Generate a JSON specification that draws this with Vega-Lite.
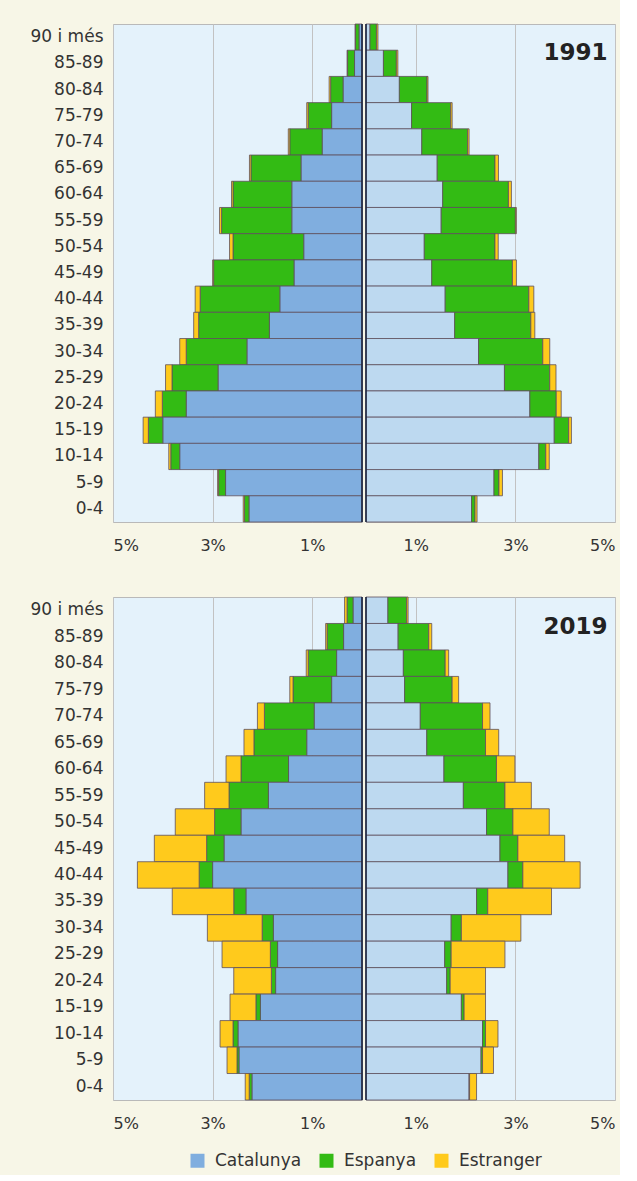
{
  "$schema": "https://vega.github.io/schema/vega-lite/v6.json",
  "background": "#f7f6e7",
  "padding": {"left": 29, "top": 22, "right": 4, "bottom": 6},
  "datasets": {
    "pop": [
      {"any":1991,"edat":"90 i més","sexe":"H","Catalunya":0.06,"Espanya":0.07,"Estranger":0.01},
      {"any":1991,"edat":"85-89","sexe":"H","Catalunya":0.15,"Espanya":0.14,"Estranger":0.01},
      {"any":1991,"edat":"80-84","sexe":"H","Catalunya":0.38,"Espanya":0.25,"Estranger":0.03},
      {"any":1991,"edat":"75-79","sexe":"H","Catalunya":0.61,"Espanya":0.47,"Estranger":0.03},
      {"any":1991,"edat":"70-74","sexe":"H","Catalunya":0.80,"Espanya":0.65,"Estranger":0.03},
      {"any":1991,"edat":"65-69","sexe":"H","Catalunya":1.225,"Espanya":1.005,"Estranger":0.03},
      {"any":1991,"edat":"60-64","sexe":"H","Catalunya":1.41,"Espanya":1.18,"Estranger":0.03},
      {"any":1991,"edat":"55-59","sexe":"H","Catalunya":1.41,"Espanya":1.41,"Estranger":0.04},
      {"any":1991,"edat":"50-54","sexe":"H","Catalunya":1.17,"Espanya":1.42,"Estranger":0.07},
      {"any":1991,"edat":"45-49","sexe":"H","Catalunya":1.365,"Espanya":1.615,"Estranger":0.02},
      {"any":1991,"edat":"40-44","sexe":"H","Catalunya":1.65,"Espanya":1.60,"Estranger":0.10},
      {"any":1991,"edat":"35-39","sexe":"H","Catalunya":1.86,"Espanya":1.42,"Estranger":0.10},
      {"any":1991,"edat":"30-34","sexe":"H","Catalunya":2.31,"Espanya":1.22,"Estranger":0.13},
      {"any":1991,"edat":"25-29","sexe":"H","Catalunya":2.89,"Espanya":0.925,"Estranger":0.13},
      {"any":1991,"edat":"20-24","sexe":"H","Catalunya":3.53,"Espanya":0.48,"Estranger":0.14},
      {"any":1991,"edat":"15-19","sexe":"H","Catalunya":4.0,"Espanya":0.29,"Estranger":0.105},
      {"any":1991,"edat":"10-14","sexe":"H","Catalunya":3.66,"Espanya":0.18,"Estranger":0.04},
      {"any":1991,"edat":"5-9","sexe":"H","Catalunya":2.74,"Espanya":0.14,"Estranger":0.02},
      {"any":1991,"edat":"0-4","sexe":"H","Catalunya":2.27,"Espanya":0.09,"Estranger":0.025},
      {"any":1991,"edat":"90 i més","sexe":"D","Catalunya":0.08,"Espanya":0.13,"Estranger":0.03},
      {"any":1991,"edat":"85-89","sexe":"D","Catalunya":0.35,"Espanya":0.26,"Estranger":0.03},
      {"any":1991,"edat":"80-84","sexe":"D","Catalunya":0.67,"Espanya":0.555,"Estranger":0.02},
      {"any":1991,"edat":"75-79","sexe":"D","Catalunya":0.915,"Espanya":0.785,"Estranger":0.03},
      {"any":1991,"edat":"70-74","sexe":"D","Catalunya":1.12,"Espanya":0.92,"Estranger":0.03},
      {"any":1991,"edat":"65-69","sexe":"D","Catalunya":1.43,"Espanya":1.16,"Estranger":0.07},
      {"any":1991,"edat":"60-64","sexe":"D","Catalunya":1.54,"Espanya":1.32,"Estranger":0.06},
      {"any":1991,"edat":"55-59","sexe":"D","Catalunya":1.51,"Espanya":1.49,"Estranger":0.02},
      {"any":1991,"edat":"50-54","sexe":"D","Catalunya":1.17,"Espanya":1.42,"Estranger":0.065},
      {"any":1991,"edat":"45-49","sexe":"D","Catalunya":1.32,"Espanya":1.62,"Estranger":0.08},
      {"any":1991,"edat":"40-44","sexe":"D","Catalunya":1.59,"Espanya":1.68,"Estranger":0.10},
      {"any":1991,"edat":"35-39","sexe":"D","Catalunya":1.78,"Espanya":1.53,"Estranger":0.08},
      {"any":1991,"edat":"30-34","sexe":"D","Catalunya":2.26,"Espanya":1.29,"Estranger":0.14},
      {"any":1991,"edat":"25-29","sexe":"D","Catalunya":2.78,"Espanya":0.91,"Estranger":0.125},
      {"any":1991,"edat":"20-24","sexe":"D","Catalunya":3.29,"Espanya":0.53,"Estranger":0.10},
      {"any":1991,"edat":"15-19","sexe":"D","Catalunya":3.78,"Espanya":0.29,"Estranger":0.055},
      {"any":1991,"edat":"10-14","sexe":"D","Catalunya":3.47,"Espanya":0.14,"Estranger":0.07},
      {"any":1991,"edat":"5-9","sexe":"D","Catalunya":2.57,"Espanya":0.10,"Estranger":0.07},
      {"any":1991,"edat":"0-4","sexe":"D","Catalunya":2.12,"Espanya":0.07,"Estranger":0.04},
      {"any":2019,"edat":"90 i més","sexe":"H","Catalunya":0.18,"Espanya":0.12,"Estranger":0.05},
      {"any":2019,"edat":"85-89","sexe":"H","Catalunya":0.37,"Espanya":0.33,"Estranger":0.03},
      {"any":2019,"edat":"80-84","sexe":"H","Catalunya":0.51,"Espanya":0.57,"Estranger":0.04},
      {"any":2019,"edat":"75-79","sexe":"H","Catalunya":0.61,"Espanya":0.775,"Estranger":0.065},
      {"any":2019,"edat":"70-74","sexe":"H","Catalunya":0.96,"Espanya":1.0,"Estranger":0.14},
      {"any":2019,"edat":"65-69","sexe":"H","Catalunya":1.11,"Espanya":1.06,"Estranger":0.20},
      {"any":2019,"edat":"60-64","sexe":"H","Catalunya":1.475,"Espanya":0.955,"Estranger":0.30},
      {"any":2019,"edat":"55-59","sexe":"H","Catalunya":1.88,"Espanya":0.79,"Estranger":0.49},
      {"any":2019,"edat":"50-54","sexe":"H","Catalunya":2.43,"Espanya":0.53,"Estranger":0.79},
      {"any":2019,"edat":"45-49","sexe":"H","Catalunya":2.77,"Espanya":0.35,"Estranger":1.05},
      {"any":2019,"edat":"40-44","sexe":"H","Catalunya":3.0,"Espanya":0.27,"Estranger":1.24},
      {"any":2019,"edat":"35-39","sexe":"H","Catalunya":2.33,"Espanya":0.245,"Estranger":1.235},
      {"any":2019,"edat":"30-34","sexe":"H","Catalunya":1.78,"Espanya":0.225,"Estranger":1.10},
      {"any":2019,"edat":"25-29","sexe":"H","Catalunya":1.695,"Espanya":0.145,"Estranger":0.97},
      {"any":2019,"edat":"20-24","sexe":"H","Catalunya":1.735,"Espanya":0.085,"Estranger":0.755},
      {"any":2019,"edat":"15-19","sexe":"H","Catalunya":2.04,"Espanya":0.09,"Estranger":0.52},
      {"any":2019,"edat":"10-14","sexe":"H","Catalunya":2.49,"Espanya":0.10,"Estranger":0.26},
      {"any":2019,"edat":"5-9","sexe":"H","Catalunya":2.47,"Espanya":0.04,"Estranger":0.20},
      {"any":2019,"edat":"0-4","sexe":"H","Catalunya":2.21,"Espanya":0.055,"Estranger":0.08},
      {"any":2019,"edat":"90 i més","sexe":"D","Catalunya":0.44,"Espanya":0.375,"Estranger":0.03},
      {"any":2019,"edat":"85-89","sexe":"D","Catalunya":0.645,"Espanya":0.615,"Estranger":0.06},
      {"any":2019,"edat":"80-84","sexe":"D","Catalunya":0.75,"Espanya":0.84,"Estranger":0.07},
      {"any":2019,"edat":"75-79","sexe":"D","Catalunya":0.775,"Espanya":0.955,"Estranger":0.13},
      {"any":2019,"edat":"70-74","sexe":"D","Catalunya":1.09,"Espanya":1.25,"Estranger":0.15},
      {"any":2019,"edat":"65-69","sexe":"D","Catalunya":1.22,"Espanya":1.18,"Estranger":0.265},
      {"any":2019,"edat":"60-64","sexe":"D","Catalunya":1.565,"Espanya":1.055,"Estranger":0.37},
      {"any":2019,"edat":"55-59","sexe":"D","Catalunya":1.955,"Espanya":0.835,"Estranger":0.53},
      {"any":2019,"edat":"50-54","sexe":"D","Catalunya":2.42,"Espanya":0.53,"Estranger":0.73},
      {"any":2019,"edat":"45-49","sexe":"D","Catalunya":2.69,"Espanya":0.36,"Estranger":0.94},
      {"any":2019,"edat":"40-44","sexe":"D","Catalunya":2.85,"Espanya":0.30,"Estranger":1.15},
      {"any":2019,"edat":"35-39","sexe":"D","Catalunya":2.22,"Espanya":0.225,"Estranger":1.28},
      {"any":2019,"edat":"30-34","sexe":"D","Catalunya":1.71,"Espanya":0.205,"Estranger":1.195},
      {"any":2019,"edat":"25-29","sexe":"D","Catalunya":1.58,"Espanya":0.13,"Estranger":1.08},
      {"any":2019,"edat":"20-24","sexe":"D","Catalunya":1.62,"Espanya":0.07,"Estranger":0.71},
      {"any":2019,"edat":"15-19","sexe":"D","Catalunya":1.915,"Espanya":0.055,"Estranger":0.43},
      {"any":2019,"edat":"10-14","sexe":"D","Catalunya":2.34,"Espanya":0.06,"Estranger":0.25},
      {"any":2019,"edat":"5-9","sexe":"D","Catalunya":2.31,"Espanya":0.03,"Estranger":0.22},
      {"any":2019,"edat":"0-4","sexe":"D","Catalunya":2.07,"Espanya":0.01,"Estranger":0.14}
    ]
  },
  "config": {
    "font": "DejaVu Sans",
    "view": {"fill": "#e4f2fb", "stroke": "#b9b9b9", "strokeWidth": 1},
    "axis": {"labelFont": "DejaVu Sans", "labelFontSize": 16, "labelColor": "#333333", "domain": false, "ticks": false, "tickSize": 0, "title": null, "gridColor": "#c2c2c2", "gridWidth": 1},
    "axisY": {"labelPadding": 10, "grid": false},
    "axisX": {"labelPadding": 15, "labelDx": 6},
    "legend": {"orient": "none", "legendX": 76, "legendY": 1128, "direction": "horizontal", "title": null, "symbolType": "square", "symbolSize": 196, "symbolStrokeWidth": 0, "labelFont": "DejaVu Sans", "labelFontSize": 17, "labelColor": "#333333", "columnPadding": 16, "labelOffset": 9}
  },
  "spacing": 41,
  "vconcat": [
    {
      "spacing": 0,
      "hconcat": [
        {
          "width": 249, "height": 498,
          "layer": [
            {
              "data": {"name": "pop"},
              "transform": [
                {"filter": "datum.any === 1991 && datum.sexe === 'H'"},
                {"fold": ["Catalunya", "Espanya", "Estranger"], "as": ["origen", "pct"]}
              ],
              "mark": {"type": "bar", "stroke": "#5e4f5c", "strokeWidth": 0.8},
              "encoding": {
                "y": {"field": "edat", "type": "nominal", "sort": ["90 i més","85-89","80-84","75-79","70-74","65-69","60-64","55-59","50-54","45-49","40-44","35-39","30-34","25-29","20-24","15-19","10-14","5-9","0-4"], "scale": {"paddingInner": 0, "paddingOuter": 0}, "axis": {"labelFontSize": 17}},
                "x": {"field": "pct", "type": "quantitative", "stack": "zero", "scale": {"domain": [0, 5], "reverse": true, "nice": false}, "axis": {"values": [1, 3, 5], "labelExpr": "datum.value + '%'", "grid": true}},
                "color": {"field": "origen", "type": "nominal", "scale": {"domain": ["Catalunya", "Espanya", "Estranger"], "range": ["#80aedf", "#33bb14", "#ffca1c"]}, "legend": {"title": null}},
                "order": {"field": "origen", "sort": "ascending"}
              }
            },
            {
              "data": {"values": [{}]},
              "mark": {"type": "rule", "color": "#1b2540", "strokeWidth": 1.6},
              "encoding": {"x": {"datum": 0}}
            }
          ]
        },
        {
          "width": 249, "height": 498,
          "layer": [
            {
              "data": {"name": "pop"},
              "transform": [
                {"filter": "datum.any === 1991 && datum.sexe === 'D'"},
                {"fold": ["Catalunya", "Espanya", "Estranger"], "as": ["origen", "pct"]}
              ],
              "mark": {"type": "bar", "stroke": "#5e4f5c", "strokeWidth": 0.8},
              "encoding": {
                "y": {"field": "edat", "type": "nominal", "sort": ["90 i més","85-89","80-84","75-79","70-74","65-69","60-64","55-59","50-54","45-49","40-44","35-39","30-34","25-29","20-24","15-19","10-14","5-9","0-4"], "scale": {"paddingInner": 0, "paddingOuter": 0}, "axis": null},
                "x": {"field": "pct", "type": "quantitative", "stack": "zero", "scale": {"domain": [0, 5], "nice": false}, "axis": {"values": [1, 3, 5], "labelExpr": "datum.value + '%'", "grid": true}},
                "color": {"field": "origen", "type": "nominal", "scale": {"domain": ["Catalunya", "Espanya", "Estranger"], "range": ["#80aedf", "#33bb14", "#ffca1c"]}, "legend": {"title": null}, "condition": {"test": "datum.origen === 'Catalunya'", "value": "#bdd9f0"}},
                "order": {"field": "origen", "sort": "ascending"}
              }
            },
            {
              "data": {"values": [{}]},
              "mark": {"type": "rule", "color": "#1b2540", "strokeWidth": 1.6},
              "encoding": {"x": {"datum": 0}}
            },
            {
              "data": {"values": [{"any": "1991"}]},
              "mark": {"type": "text", "align": "right", "baseline": "alphabetic", "fontSize": 23, "fontWeight": "bold", "color": "#222222", "font": "DejaVu Sans", "dy": -3},
              "encoding": {
                "text": {"field": "any", "type": "nominal"},
                "x": {"datum": 4.85},
                "y": {"datum": "85-89", "type": "nominal"}
              }
            }
          ]
        }
      ]
    },
    {
      "spacing": 0,
      "hconcat": [
        {
          "width": 249, "height": 503,
          "layer": [
            {
              "data": {"name": "pop"},
              "transform": [
                {"filter": "datum.any === 2019 && datum.sexe === 'H'"},
                {"fold": ["Catalunya", "Espanya", "Estranger"], "as": ["origen", "pct"]}
              ],
              "mark": {"type": "bar", "stroke": "#5e4f5c", "strokeWidth": 0.8},
              "encoding": {
                "y": {"field": "edat", "type": "nominal", "sort": ["90 i més","85-89","80-84","75-79","70-74","65-69","60-64","55-59","50-54","45-49","40-44","35-39","30-34","25-29","20-24","15-19","10-14","5-9","0-4"], "scale": {"paddingInner": 0, "paddingOuter": 0}, "axis": {"labelFontSize": 17}},
                "x": {"field": "pct", "type": "quantitative", "stack": "zero", "scale": {"domain": [0, 5], "reverse": true, "nice": false}, "axis": {"values": [1, 3, 5], "labelExpr": "datum.value + '%'", "grid": true}},
                "color": {"field": "origen", "type": "nominal", "scale": {"domain": ["Catalunya", "Espanya", "Estranger"], "range": ["#80aedf", "#33bb14", "#ffca1c"]}, "legend": {"title": null}},
                "order": {"field": "origen", "sort": "ascending"}
              }
            },
            {
              "data": {"values": [{}]},
              "mark": {"type": "rule", "color": "#1b2540", "strokeWidth": 1.6},
              "encoding": {"x": {"datum": 0}}
            }
          ]
        },
        {
          "width": 249, "height": 503,
          "layer": [
            {
              "data": {"name": "pop"},
              "transform": [
                {"filter": "datum.any === 2019 && datum.sexe === 'D'"},
                {"fold": ["Catalunya", "Espanya", "Estranger"], "as": ["origen", "pct"]}
              ],
              "mark": {"type": "bar", "stroke": "#5e4f5c", "strokeWidth": 0.8},
              "encoding": {
                "y": {"field": "edat", "type": "nominal", "sort": ["90 i més","85-89","80-84","75-79","70-74","65-69","60-64","55-59","50-54","45-49","40-44","35-39","30-34","25-29","20-24","15-19","10-14","5-9","0-4"], "scale": {"paddingInner": 0, "paddingOuter": 0}, "axis": null},
                "x": {"field": "pct", "type": "quantitative", "stack": "zero", "scale": {"domain": [0, 5], "nice": false}, "axis": {"values": [1, 3, 5], "labelExpr": "datum.value + '%'", "grid": true}},
                "color": {"field": "origen", "type": "nominal", "scale": {"domain": ["Catalunya", "Espanya", "Estranger"], "range": ["#80aedf", "#33bb14", "#ffca1c"]}, "legend": {"title": null}, "condition": {"test": "datum.origen === 'Catalunya'", "value": "#bdd9f0"}},
                "order": {"field": "origen", "sort": "ascending"}
              }
            },
            {
              "data": {"values": [{}]},
              "mark": {"type": "rule", "color": "#1b2540", "strokeWidth": 1.6},
              "encoding": {"x": {"datum": 0}}
            },
            {
              "data": {"values": [{"any": "2019"}]},
              "mark": {"type": "text", "align": "right", "baseline": "alphabetic", "fontSize": 23, "fontWeight": "bold", "color": "#222222", "font": "DejaVu Sans", "dy": -3},
              "encoding": {
                "text": {"field": "any", "type": "nominal"},
                "x": {"datum": 4.85},
                "y": {"datum": "85-89", "type": "nominal"}
              }
            }
          ]
        }
      ]
    }
  ]
}
